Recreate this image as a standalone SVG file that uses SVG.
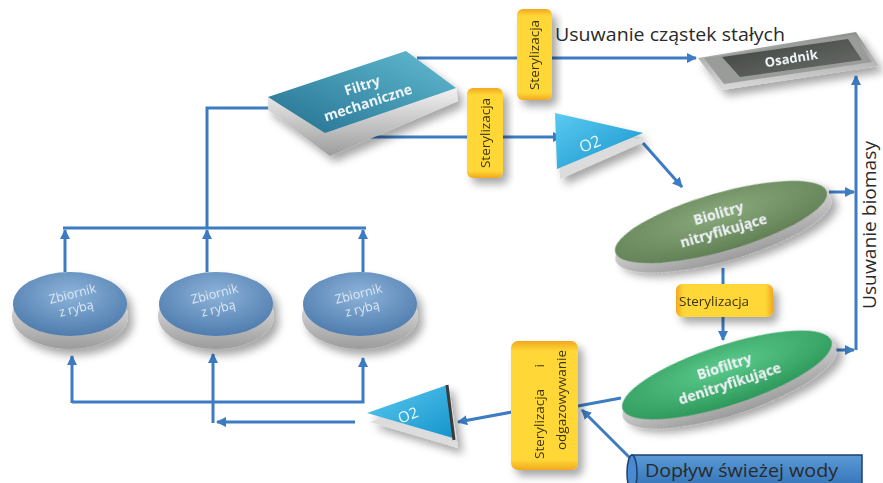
<svg xmlns="http://www.w3.org/2000/svg" width="883" height="483" viewBox="0 0 883 483">
<defs>
  <style>
    .ln{fill:none;stroke:#3d7cc2;stroke-width:3}
    .lbl{font-family:"Open Sans","Liberation Sans",sans-serif;fill:#2a2a2a}
    .nd{font-family:"Open Sans","Liberation Sans",sans-serif;font-weight:bold;fill:#eef4f8;text-anchor:middle}
    .zt{font-family:"Open Sans","Liberation Sans",sans-serif;font-weight:normal;fill:#dce8f4;text-anchor:middle;font-size:12.5px}
    .o2{font-family:"Open Sans","Liberation Sans",sans-serif;font-weight:normal;fill:#eef8fc;text-anchor:middle}
    .st{font-family:"Open Sans","Liberation Sans",sans-serif;font-size:13.5px;fill:#3a3410}
  </style>
  <marker id="arr" viewBox="0 0 10 10" refX="9" refY="5" markerWidth="3.4" markerHeight="3.4" orient="auto-start-reverse" markerUnits="strokeWidth">
    <path d="M0,0 L10,5 L0,10 z" fill="#3d7cc2"/>
  </marker>
  <filter id="sh" x="-30%" y="-30%" width="160%" height="170%">
    <feGaussianBlur in="SourceAlpha" stdDeviation="4"/>
    <feOffset dx="5" dy="6" result="b"/>
    <feComponentTransfer><feFuncA type="linear" slope="0.35"/></feComponentTransfer>
    <feMerge><feMergeNode/><feMergeNode in="SourceGraphic"/></feMerge>
  </filter>
  <linearGradient id="gY" x1="0" y1="0" x2="0" y2="1">
    <stop offset="0" stop-color="#f2a81e"/><stop offset="0.08" stop-color="#ffd838"/>
    <stop offset="0.92" stop-color="#ffd838"/><stop offset="1" stop-color="#f2a81e"/>
  </linearGradient>
  <linearGradient id="gYh" x1="0" y1="0" x2="1" y2="0">
    <stop offset="0" stop-color="#f2a81e"/><stop offset="0.08" stop-color="#ffd838"/>
    <stop offset="0.92" stop-color="#ffd838"/><stop offset="1" stop-color="#f2a81e"/>
  </linearGradient>
  <linearGradient id="gF" x1="0" y1="1" x2="1" y2="0">
    <stop offset="0" stop-color="#23708f"/><stop offset="1" stop-color="#62bcd2"/>
  </linearGradient>
  <linearGradient id="gSil" x1="0" y1="0" x2="0" y2="1">
    <stop offset="0" stop-color="#f2f2f2"/><stop offset="1" stop-color="#9c9c9c"/>
  </linearGradient>
  <linearGradient id="gOs" x1="0" y1="0" x2="1" y2="1">
    <stop offset="0" stop-color="#3e423e"/><stop offset="1" stop-color="#6c706c"/>
  </linearGradient>
  <linearGradient id="gOsR" x1="0" y1="0" x2="0" y2="1">
    <stop offset="0" stop-color="#8e908e"/><stop offset="1" stop-color="#dadada"/>
  </linearGradient>
  <radialGradient id="gZ" cx="0.5" cy="0.35" r="0.7">
    <stop offset="0" stop-color="#8db3da"/><stop offset="1" stop-color="#4a78aa"/>
  </radialGradient>
  <radialGradient id="gN" cx="0.5" cy="0.35" r="0.7">
    <stop offset="0" stop-color="#8aa97b"/><stop offset="1" stop-color="#5e7d52"/>
  </radialGradient>
  <radialGradient id="gD" cx="0.5" cy="0.35" r="0.7">
    <stop offset="0" stop-color="#5ccb8c"/><stop offset="1" stop-color="#2a9457"/>
  </radialGradient>
  <linearGradient id="gO" x1="0" y1="0" x2="1" y2="1">
    <stop offset="0" stop-color="#5ccaf0"/><stop offset="1" stop-color="#1494cc"/>
  </linearGradient>
  <linearGradient id="gW" x1="0" y1="0" x2="0" y2="1">
    <stop offset="0" stop-color="#5b9ad6"/><stop offset="1" stop-color="#2f6fb4"/>
  </linearGradient>
</defs>
<rect width="883" height="483" fill="#ffffff"/>

<g id="connectors">
  <path class="ln" d="M417,58 H696" marker-end="url(#arr)"/>
  <path class="ln" d="M368,137 H562" marker-end="url(#arr)"/>
  <path class="ln" d="M643,143 L682,187" marker-end="url(#arr)"/>
  <path class="ln" d="M829,192 H854" marker-end="url(#arr)"/>
  <path class="ln" d="M831,350 H854" marker-end="url(#arr)"/>
  <path class="ln" d="M856,350 V76" marker-end="url(#arr)"/>
  <path class="ln" d="M723,268 V284"/>
  <path class="ln" d="M723,317 V340" marker-end="url(#arr)"/>
  <path class="ln" d="M621,398 L578,406"/>
  <path class="ln" d="M630,458 L582,410" marker-end="url(#arr)"/>
  <path class="ln" d="M512,412 L458,422" marker-end="url(#arr)"/>
  <path class="ln" d="M72,402 H363 V358" marker-end="url(#arr)"/>
  <path class="ln" d="M72,403 V356" marker-end="url(#arr)"/>
  <path class="ln" d="M355,422 H217" marker-end="url(#arr)"/>
  <path class="ln" d="M213,423 V354" marker-end="url(#arr)"/>
  <path class="ln" d="M65,272 V230" marker-end="url(#arr)"/>
  <path class="ln" d="M207,272 V230" marker-end="url(#arr)"/>
  <path class="ln" d="M363,272 V230" marker-end="url(#arr)"/>
  <path class="ln" d="M63,228 H366"/>
  <path class="ln" d="M207,228 V108 H282" marker-end="url(#arr)"/>
</g>

<g id="filtry" filter="url(#sh)">
  <polygon points="268,97 268,110 330,156 458,101 456,88 325,133" fill="url(#gSil)"/>
  <polygon points="268,97 406,51 456,88 325,133" fill="url(#gF)"/>
  <g transform="translate(365,94) rotate(-18)">
    <text class="nd" x="0" y="-4" font-size="14">Filtry</text>
    <text class="nd" x="0" y="14" font-size="14">mechaniczne</text>
  </g>
</g>

<g id="osadnik" filter="url(#sh)">
  <polygon points="698,58 856,32 879,66 722,90" fill="url(#gOsR)"/>
  <polygon points="704,58 854,35 872,62 724,84" fill="#9a9c9a"/>
  <polygon points="722,57 848,39 862,60 740,77" fill="url(#gOs)"/>
  <text class="nd" x="0" y="0" font-size="13" transform="translate(792,63) rotate(-9)" fill="#d8dcd8">Osadnik</text>
</g>

<g id="ster1" filter="url(#sh)">
  <rect x="517" y="9" width="35" height="91" rx="6" fill="url(#gY)"/>
  <text class="st" transform="translate(539,55) rotate(-90)" text-anchor="middle">Sterylizacja</text>
</g>

<g id="ster2" filter="url(#sh)">
  <rect x="467" y="88" width="36" height="90" rx="6" fill="url(#gY)"/>
  <text class="st" transform="translate(490,133) rotate(-90)" text-anchor="middle">Sterylizacja</text>
</g>

<text class="lbl" x="555" y="41" font-size="19" textLength="230" lengthAdjust="spacingAndGlyphs">Usuwanie cząstek stałych</text>

<g id="o2a" filter="url(#sh)">
  <polygon points="557,124 646,141 560,179" fill="#dcdcdc"/>
  <polygon points="555,113 643,133 557,169" fill="url(#gO)"/>
  <text class="o2" font-size="16" transform="translate(592,149) rotate(-22)">O2</text>
</g>

<g id="biolitry" filter="url(#sh)" transform="translate(721,222) rotate(-16)">
  <ellipse cx="0" cy="8" rx="112" ry="31" fill="url(#gSil)"/>
  <ellipse cx="0" cy="0" rx="110" ry="29" fill="url(#gN)"/>
  <text class="nd" x="0" y="-4" font-size="14">Biolitry</text>
  <text class="nd" x="0" y="14" font-size="14">nitryfikujące</text>
</g>

<text class="lbl" transform="translate(876,225) rotate(-90)" font-size="18" text-anchor="middle" textLength="168" lengthAdjust="spacingAndGlyphs">Usuwanie biomasy</text>

<g id="ster3" filter="url(#sh)">
  <rect x="676" y="284" width="97" height="33" rx="6" fill="url(#gYh)"/>
  <text class="st" x="679" y="306" font-size="14">Sterylizacja</text>
</g>

<g id="biofiltry" filter="url(#sh)" transform="translate(727,375) rotate(-18)">
  <ellipse cx="0" cy="8" rx="112" ry="32" fill="url(#gSil)"/>
  <ellipse cx="0" cy="0" rx="110" ry="30" fill="url(#gD)"/>
  <text class="nd" x="0" y="-4" font-size="14">Biofiltry</text>
  <text class="nd" x="0" y="14" font-size="14">denitryfikujące</text>
</g>

<g id="ster4" filter="url(#sh)">
  <rect x="511" y="341" width="67" height="129" rx="7" fill="url(#gY)"/>
  <text class="st" transform="translate(544,459) rotate(-90)" font-size="14">Sterylizacja</text>
  <text class="st" transform="translate(544,364) rotate(-90)" font-size="14" text-anchor="end">i</text>
  <text class="st" transform="translate(566,400) rotate(-90)" text-anchor="middle" font-size="14">odgazowywanie</text>
</g>

<g id="doplyw">
  <rect x="632" y="455" width="230" height="36" fill="url(#gW)" stroke="#1e3f6e" stroke-width="1.5"/>
  <ellipse cx="632" cy="473" rx="5" ry="18" fill="#4a8ad0" stroke="#1e3f6e" stroke-width="1.5"/>
  <text class="lbl" x="645" y="477" font-size="19" fill="#17223e" textLength="193" lengthAdjust="spacingAndGlyphs">Dopływ świeżej wody</text>
</g>

<g id="o2b" filter="url(#sh)">
  <polygon points="370,422 450,394 458,448" fill="#dcdcdc"/>
  <polygon points="367,413 447,385 453,438" fill="url(#gO)"/>
  <line x1="447" y1="385" x2="454" y2="440" stroke="#3a3a3a" stroke-width="3"/>
  <text class="o2" font-size="15" transform="translate(410,420) rotate(-22)">O2</text>
</g>

<g id="zb1" filter="url(#sh)">
  <ellipse cx="70" cy="316" rx="58" ry="33" fill="url(#gSil)"/>
  <ellipse cx="70" cy="304" rx="57" ry="32" fill="url(#gZ)"/>
  <g transform="translate(74,300) rotate(-14)">
    <text class="zt" x="0" y="-2">Zbiornik</text>
    <text class="zt" x="0" y="13">z rybą</text>
  </g>
</g>
<g id="zb2" filter="url(#sh)">
  <ellipse cx="216" cy="316" rx="58" ry="33" fill="url(#gSil)"/>
  <ellipse cx="216" cy="304" rx="57" ry="32" fill="url(#gZ)"/>
  <g transform="translate(216,300) rotate(-14)">
    <text class="zt" x="0" y="-2">Zbiornik</text>
    <text class="zt" x="0" y="13">z rybą</text>
  </g>
</g>
<g id="zb3" filter="url(#sh)">
  <ellipse cx="360" cy="316" rx="58" ry="33" fill="url(#gSil)"/>
  <ellipse cx="360" cy="304" rx="57" ry="32" fill="url(#gZ)"/>
  <g transform="translate(360,300) rotate(-14)">
    <text class="zt" x="0" y="-2">Zbiornik</text>
    <text class="zt" x="0" y="13">z rybą</text>
  </g>
</g>
</svg>
